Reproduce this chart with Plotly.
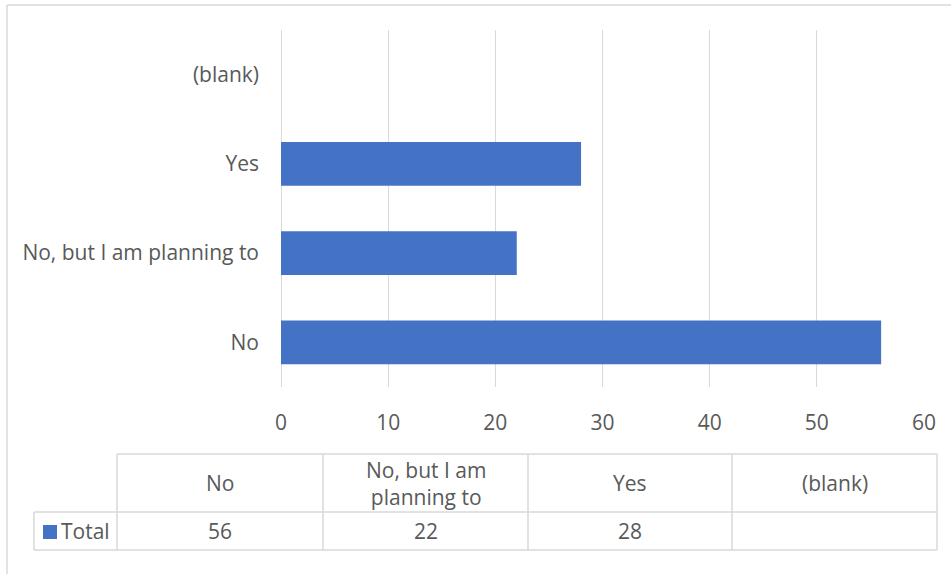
import plotly.graph_objects as go

categories = ["No", "No, but I am planning to", "Yes", "(blank)"]
table_headers = ["No", "No, but I am<br>planning to", "Yes", "(blank)"]
values = [56, 22, 28, None]
series_name = "Total"
x_ticks = [0, 10, 20, 30, 40, 50, 60]

W, H = 951, 574
FONT = "Open Sans"
TXT = "#595959"
GRID = "#D9D9D9"
BAR = "#4472C4"
FS = 21

def px(x):
    return x / W

def py(y):
    return 1 - y / H

fig = go.Figure()
fig.add_trace(go.Bar(
    y=categories, x=values, orientation="h", name=series_name,
    marker=dict(color=BAR, line=dict(width=0)),
))

fig.update_layout(
    width=W, height=H, autosize=False,
    margin=dict(l=0, r=0, t=0, b=0, pad=0, autoexpand=False),
    paper_bgcolor="white", plot_bgcolor="white",
    showlegend=False,
    bargap=0.51,
    font=dict(family=FONT, size=FS, color=TXT),
    xaxis=dict(
        domain=[px(281), px(924)], range=[0, 60],
        tickvals=x_ticks, ticktext=[str(v) for v in x_ticks],
        showgrid=True, gridcolor=GRID, gridwidth=1,
        zeroline=True, zerolinecolor=GRID, zerolinewidth=1,
        showline=False, ticks="", ticklabelstandoff=21,
        automargin=False,
        tickfont=dict(family=FONT, size=FS, color=TXT),
        fixedrange=True,
    ),
    yaxis=dict(
        domain=[py(387), py(30)],
        type="category", categoryorder="array", categoryarray=categories,
        showgrid=False, zeroline=False, showline=False, ticks="",
        ticklabelstandoff=21, automargin=False,
        tickfont=dict(family=FONT, size=FS, color=TXT),
        fixedrange=True,
    ),
)

shapes = []
# outer chart border (left and top edges visible)
bl = dict(color=GRID, width=1.5)
shapes.append(dict(type="line", xref="paper", yref="paper",
                   x0=px(7), x1=px(7), y0=0, y1=py(5), line=bl))
shapes.append(dict(type="line", xref="paper", yref="paper",
                   x0=px(7), x1=1, y0=py(5), y1=py(5), line=bl))

# data table
col_edges = [117, 323, 528, 732, 937]
row_top, row_mid, row_bot = 454, 512, 550
leg_left = 34
tl = dict(color=GRID, width=1.5)
def line(x0, y0, x1, y1):
    shapes.append(dict(type="line", xref="paper", yref="paper",
                       x0=px(x0), y0=py(y0), x1=px(x1), y1=py(y1), line=tl))

line(col_edges[0], row_top, col_edges[-1], row_top)
line(leg_left, row_mid, col_edges[-1], row_mid)
line(leg_left, row_bot, col_edges[-1], row_bot)
line(leg_left, row_mid, leg_left, row_bot)
for xe in col_edges:
    line(xe, row_top, xe, row_bot)

# legend key square
shapes.append(dict(type="rect", xref="paper", yref="paper",
                   x0=px(43), x1=px(57), y0=py(539), y1=py(525),
                   line=dict(width=0), fillcolor=BAR))

annotations = []
for i, (hdr, val) in enumerate(zip(table_headers, values)):
    cx = (col_edges[i] + col_edges[i + 1]) / 2
    annotations.append(dict(xref="paper", yref="paper", x=px(cx), y=py((row_top + row_mid) / 2),
                            text=hdr, showarrow=False, xanchor="center", yanchor="middle",
                            font=dict(family=FONT, size=FS, color=TXT)))
    annotations.append(dict(xref="paper", yref="paper", x=px(cx), y=py((row_mid + row_bot) / 2),
                            text="" if val is None else str(val), showarrow=False,
                            xanchor="center", yanchor="middle",
                            font=dict(family=FONT, size=FS, color=TXT)))
annotations.append(dict(xref="paper", yref="paper", x=px(59), y=py((row_mid + row_bot) / 2),
                        text=series_name, showarrow=False, xanchor="left", yanchor="middle",
                        font=dict(family=FONT, size=FS, color=TXT)))

fig.update_layout(shapes=shapes, annotations=annotations)
fig.write_html("out.html")
